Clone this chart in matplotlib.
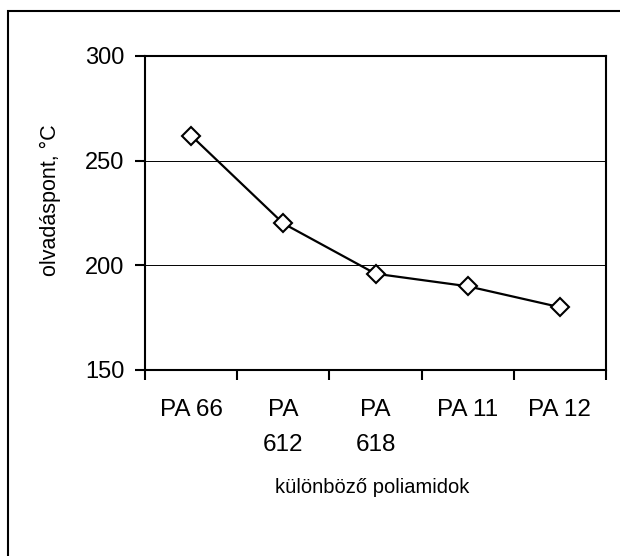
import matplotlib.pyplot as plt
from matplotlib.patches import Rectangle

plt.rcParams['font.family'] = ['Liberation Sans', 'DejaVu Sans']

kategoriak = ["PA 66", "PA\n612", "PA\n618", "PA 11", "PA 12"]
olvadaspont = [262, 220, 196, 190, 180]
y_ticks = [150, 200, 250, 300]

fig = plt.figure(figsize=(6.2, 5.56), dpi=100)
ax = fig.add_axes([145 / 620, 1 - 370 / 556, 461 / 620, 314 / 556])

x = list(range(len(kategoriak)))
ax.plot(x, olvadaspont, color='black', lw=1.6, marker='D', ms=9.5,
        mfc='white', mec='black', mew=1.5, zorder=3)

ax.set_xlim(-0.5, len(kategoriak) - 0.5)
ax.set_ylim(150, 300)
ax.set_yticks(y_ticks)
ax.yaxis.grid(True, color='black', lw=0.7)
ax.set_axisbelow(True)

ax.set_xticks(x)
ax.set_xticklabels(kategoriak, fontsize=17.5, va='top', linespacing=1.75)
ax.set_xticks([i - 0.5 for i in range(len(kategoriak) + 1)], minor=True)
ax.tick_params(axis='x', which='major', length=0, pad=21)
ax.tick_params(axis='x', which='minor', length=7, width=1.5, direction='out')
ax.tick_params(axis='y', length=7, width=1.5, direction='out', labelsize=17, pad=8)

for s in ax.spines.values():
    s.set_linewidth(1.5)
    s.set_color('black')

ax.set_xlabel("különböző poliamidok", fontsize=14.5)
ax.xaxis.set_label_coords(0.492, -0.373)
ax.xaxis.label.set_verticalalignment('center')
ax.set_ylabel("olvadáspont, °C", fontsize=15.5)
ax.yaxis.set_label_coords(-0.206, 0.541)
ax.yaxis.label.set_verticalalignment('center')

# kép körüli keret (jobb és alsó széle kilóg a képből)
fig.patches.append(Rectangle((8 / 620, -20 / 556), 640 / 620, 565 / 556,
                             transform=fig.transFigure, fill=False,
                             edgecolor='black', lw=1.5))

fig.savefig("out.png", dpi=100)
